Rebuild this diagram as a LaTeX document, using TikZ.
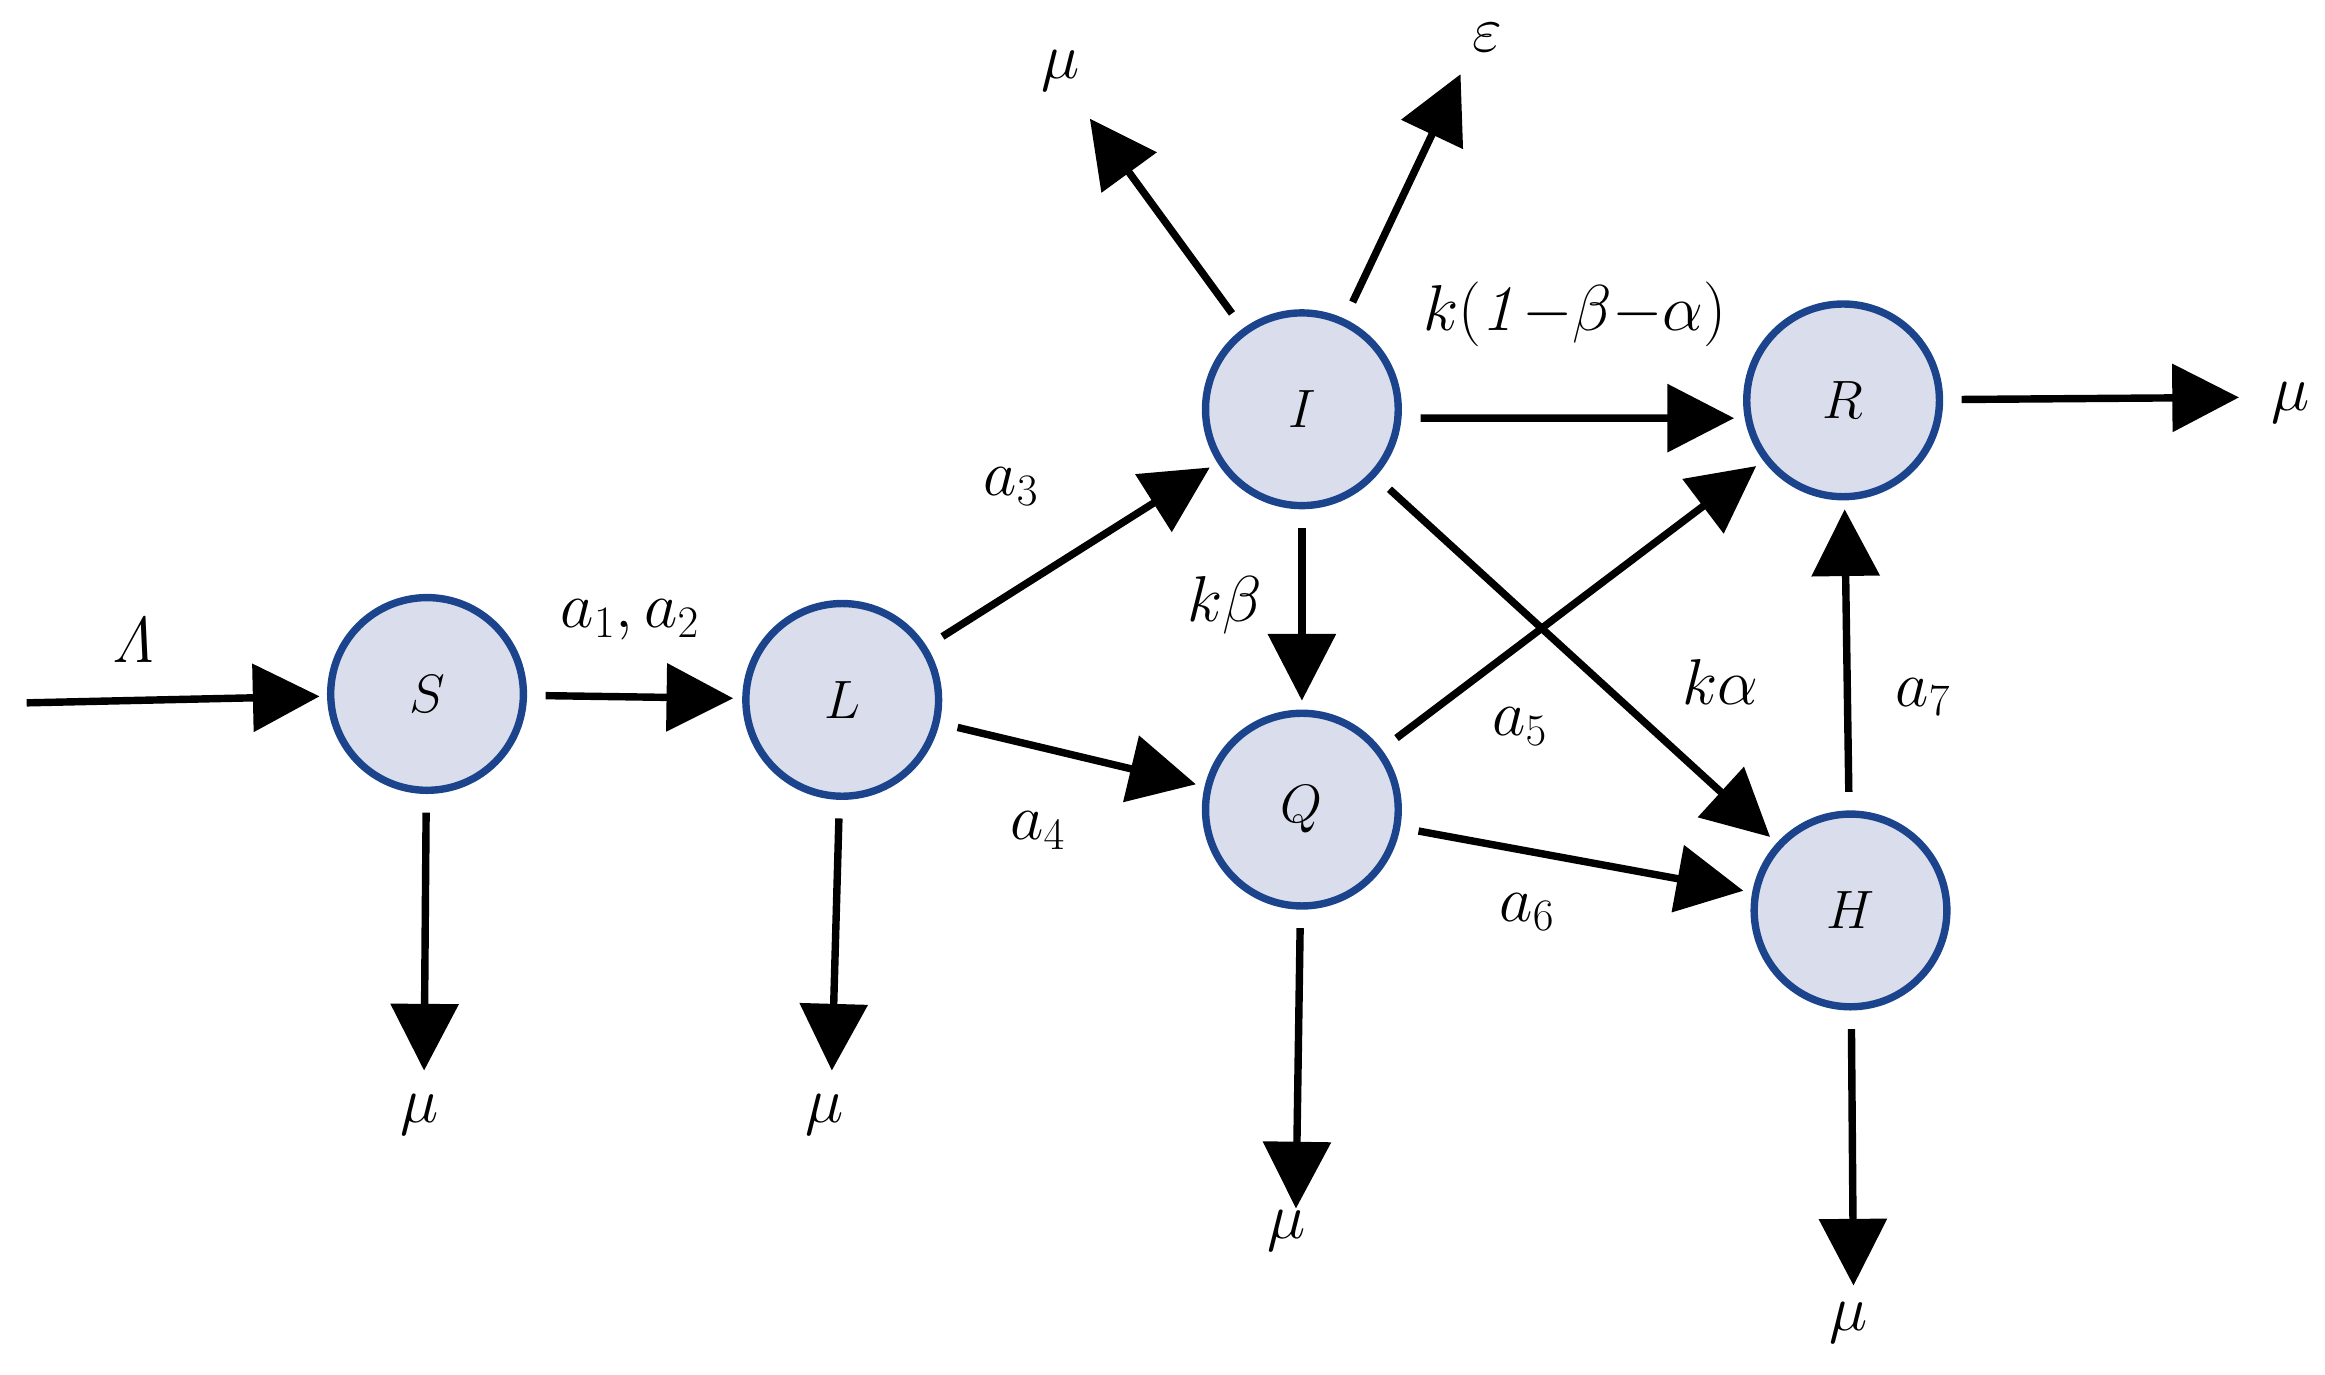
\documentclass[tikz,border=0pt]{standalone}
\usetikzlibrary{arrows.meta}
\definecolor{cfill}{RGB}{218,222,236}
\definecolor{cline}{RGB}{28,68,140}
\begin{document}
\begin{tikzpicture}[x=0.02cm,y=-0.02cm,
  st/.style={circle,draw=cline,fill=cfill,line width=0.1cm,minimum size=2.6cm,inner sep=0pt,font=\fontsize{22}{24}\selectfont},
  ar/.style={line width=0.1cm,-{Triangle[length=0.9cm,width=0.9cm]},shorten <=0.25cm,shorten >=0.12cm},
  lb/.style={font=\fontsize{25}{28}\selectfont}]
\useasboundingbox (0,0) rectangle (1568,927);
\node[st] (S) at (288,468) {$S$};
\node[st] (L) at (568,472) {$L$};
\node[st] (I) at (878,276) {$I$};
\node[st] (Q) at (878,546) {$Q$};
\node[st] (R) at (1243,270) {$R$};
\node[st] (H) at (1248,614) {$H$};
\coordinate (lin) at (18,474);
\coordinate (sd) at (286,722);
\coordinate (ld) at (561,722);
\coordinate (qd) at (874,815);
\coordinate (hd) at (1250,867);
\coordinate (iul) at (735,80);
\coordinate (iur) at (985,50);
\coordinate (rr) at (1510,268);
\draw[ar,shorten <=0pt,shorten >=0.1cm] (lin) -- (S);
\draw[ar,shorten >=0pt] (S) -- (sd);
\draw[ar,shorten >=0pt] (L) -- (ld);
\draw[ar,shorten >=0pt] (Q) -- (qd);
\draw[ar,shorten >=0pt] (H) -- (hd);
\draw[ar,shorten >=0pt] (I) -- (iul);
\draw[ar,shorten >=0pt] (I) -- (iur);
\draw[ar,shorten >=0pt] (R) -- (rr);
\draw[ar] (S) -- (L);
\draw[ar] (L) -- (I);
\draw[ar] (L) -- (Q);
\draw[ar] ([yshift=-0.12cm]I.east) -- ([yshift=-0.24cm]R.west);
\draw[ar] (I) -- (Q);
\draw[ar] (I) -- (H);
\draw[ar] (Q) -- (R);
\draw[ar] (Q) -- (H);
\draw[ar] (H) -- (R);
\node[lb] (t1) at (90,432) {$\mathit{\Lambda}$};
\node[lb] (t2) at (425,418) {$a_1,a_2$};
\node[lb] (t3) at (682,328) {$a_3$};
\node[lb] (t4) at (700,560) {$a_4$};
\node[lb] (t5) at (1025,490) {$a_5$};
\node[lb] (t6) at (1030,615) {$a_6$};
\node[lb] (t7) at (1297,470) {$a_7$};
\node[lb] (t8) at (1062,212) {$k(\mathit{1}{-}\beta{-}\alpha)$};
\node[lb] (t9) at (826,408) {$k\beta$};
\node[lb] (t10) at (1160,460) {$k\alpha$};
\node[lb] (m1) at (283,752) {$\mu$};
\node[lb] (m2) at (556,752) {$\mu$};
\node[lb] (m3) at (868,830) {$\mu$};
\node[lb] (m4) at (1247,892) {$\mu$};
\node[lb] (m5) at (715,48) {$\mu$};
\node[lb] (m6) at (1003,25) {$\varepsilon$};
\node[lb] (m7) at (1545,272) {$\mu$};
\end{tikzpicture}
\end{document}
